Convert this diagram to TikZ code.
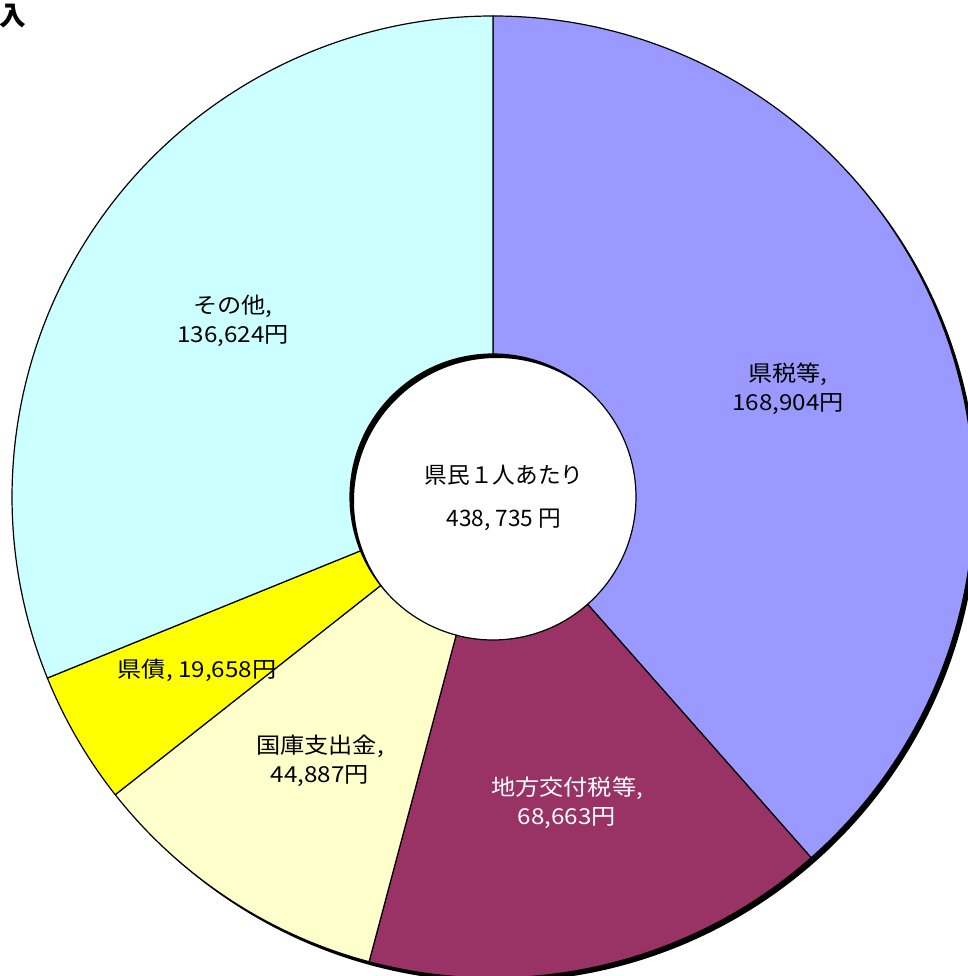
\documentclass[tikz,border=0pt]{standalone}
\usepackage{fontspec}
\setmainfont{Noto Sans CJK JP}
\newfontfamily\lblfont{Noto Sans CJK JP}[FakeStretch=1.1]
\usepackage{xcolor}
\usetikzlibrary{calc}
\definecolor{kenzei}{RGB}{153,153,255}
\definecolor{chiho}{RGB}{153,51,102}
\definecolor{kokko}{RGB}{255,255,204}
\definecolor{kensai}{RGB}{255,255,0}
\definecolor{sonota}{RGB}{204,255,255}
\newcommand{\Rout}{481}
\newcommand{\Rin}{143}
\newcommand{\ringpart}[3]{%
  \filldraw[part, fill=#3] ([shift={(#1:\Rout)}]ctr)
    arc[start angle=#1, end angle=#2, radius=\Rout]
    -- ([shift={(#2:\Rin)}]ctr)
    arc[start angle=#2, end angle=#1, radius=\Rin] -- cycle;}

\begin{document}
\begin{tikzpicture}[
  x=0.75pt, y=0.75pt,
  every node/.style={font=\lblfont\fontsize{16.5}{21.5}\selectfont, align=center, inner sep=0pt},
  part/.style={draw=black, line width=0.9pt},
  hole/.style={font=\fontsize{17}{32}\selectfont}
]
\fill[white] (0,0) rectangle (968,976);
\clip (0,0) rectangle (968,976);
\coordinate (ctr) at (493,479);

% shadow of the ring
\fill[black, even odd rule] ([shift={(4,-4)}]ctr) circle[radius=\Rout]
  ([shift={(4,-4)}]ctr) circle[radius=\Rin];

% slices, clockwise from the top
\ringpart{90}{-48.59}{kenzei}
\ringpart{-48.59}{-104.93}{chiho}
\ringpart{-104.93}{-141.76}{kokko}
\ringpart{-141.76}{-157.89}{kensai}
\ringpart{-157.89}{-270}{sonota}

\node (kenzeilbl) at (788,587) {県税等,\\168,904円};
\node[text=white] (chiholbl) at (567,173) {地方交付税等,\\68,663円};
\node (kokkolbl) at (320,215) {国庫支出金,\\44,887円};
\node (kensailbl) at (197,306) {県債, 19,658円};
\node (sonotalbl) at (233,655) {その他,\\136,624円};
\node[hole] (total) at (504,478) {県民１人あたり\\438, 735 円};

\node[font=\bfseries\fontsize{20}{22}\selectfont, anchor=east] (title) at (26,960) {入};
\end{tikzpicture}
\end{document}
